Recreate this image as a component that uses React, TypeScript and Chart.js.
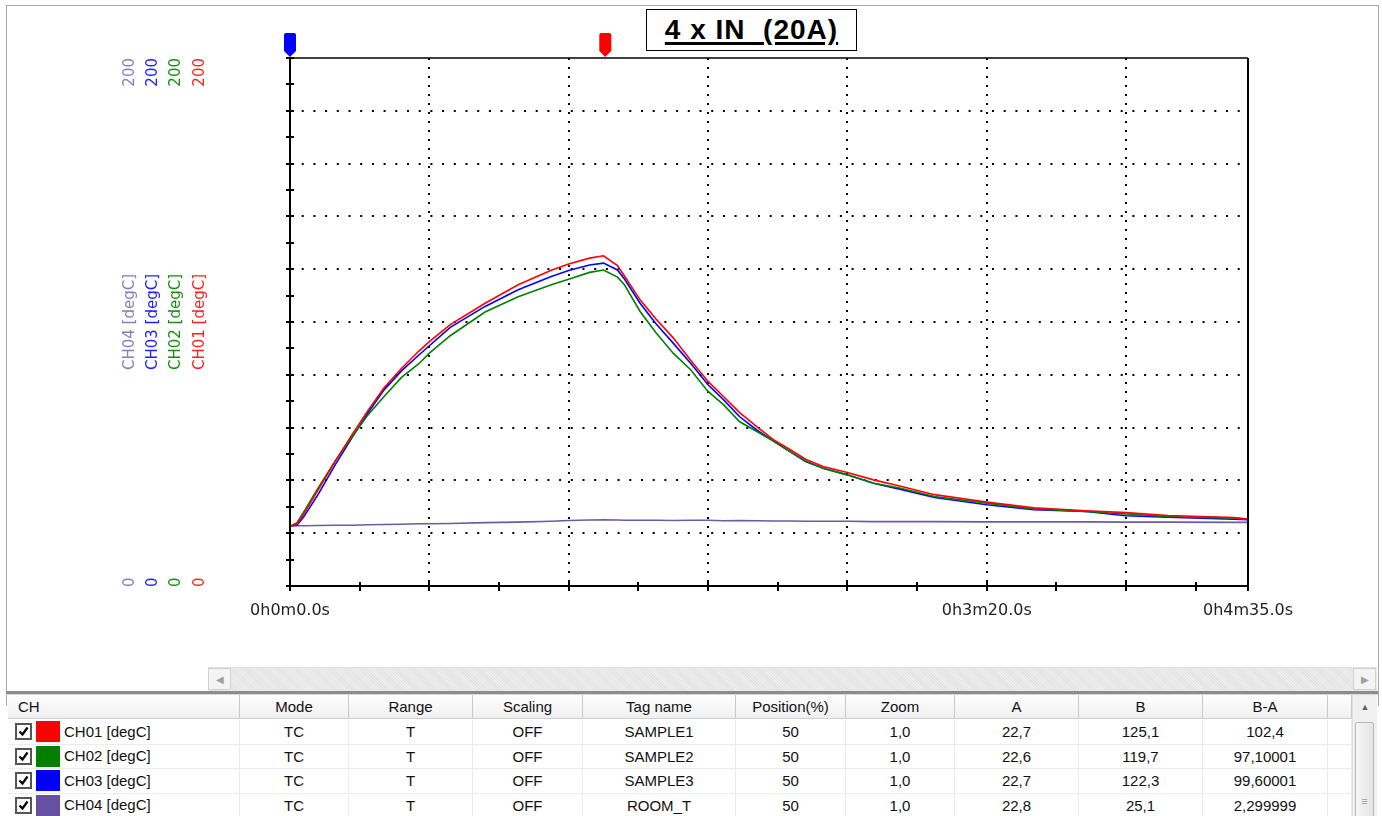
import React, { useEffect, useRef } from "react";
import { Chart, registerables } from "chart.js";

Chart.register(...registerables);

// ---------- data ----------
const TIMES = [0, 2, 4, 8, 13, 18, 22.5, 27, 32, 37, 40, 46, 56, 65.5, 75, 80, 86, 90, 94, 96, 100.5, 105, 110, 115, 120, 124.5, 129, 134, 139, 143.5, 148, 153, 160, 167.5, 175, 185, 200, 213.5, 228.5, 240, 252, 271, 275];

const CH01 = [22.7, 23.5, 27.3, 36.2, 47.3, 57.7, 66.7, 75.1, 82.4, 89.0, 92.6, 99.0, 107.1, 114.1, 119.6, 122.0, 124.2, 125.1, 121.4, 117.4, 108.4, 101.2, 94.0, 85.5, 77.5, 71.7, 65.8, 60.4, 55.2, 51.7, 48.0, 45.3, 43.0, 40.2, 37.9, 34.6, 31.8, 29.6, 28.5, 27.8, 26.7, 25.9, 25.4];
const CH02 = [22.6, 24.0, 28.2, 37.0, 47.5, 56.8, 65.0, 71.8, 79.0, 84.2, 88.2, 94.8, 103.8, 109.6, 114.1, 116.2, 118.8, 119.7, 117.0, 114.1, 104.0, 96.0, 88.2, 81.9, 73.7, 68.6, 62.3, 58.5, 54.7, 50.9, 47.4, 44.6, 42.1, 38.9, 37.1, 33.9, 31.4, 29.2, 28.2, 27.3, 26.3, 25.7, 25.3];
const CH03 = [22.7, 23.0, 26.3, 34.5, 46.0, 56.6, 65.8, 74.3, 81.5, 87.5, 91.0, 98.0, 105.9, 112.2, 117.2, 119.5, 121.6, 122.3, 119.7, 116.3, 107.1, 99.4, 92.0, 84.4, 76.2, 70.5, 64.2, 59.1, 54.7, 50.9, 47.1, 44.6, 42.1, 38.9, 36.7, 33.5, 30.8, 28.9, 28.2, 26.6, 26.1, 25.3, 25.1];
const CH04 = [22.8, 22.8, 22.8, 22.9, 23.0, 23.0, 23.2, 23.3, 23.4, 23.6, 23.6, 23.7, 24.0, 24.2, 24.5, 24.8, 25.0, 25.1, 25.0, 24.9, 24.9, 24.9, 24.8, 24.9, 24.9, 24.7, 24.8, 24.7, 24.6, 24.6, 24.5, 24.5, 24.5, 24.4, 24.4, 24.4, 24.3, 24.3, 24.3, 24.2, 24.2, 24.1, 24.1];

const SERIES = [CH01, CH02, CH03, CH04];
const CH_NAMES = ["CH01 [degC]", "CH02 [degC]", "CH03 [degC]", "CH04 [degC]"];
const LINE_COLORS = ["#ff0000", "#008000", "#0000ff", "#6b5aa8"];
const LABEL_COLORS = ["#ff2020", "#159015", "#2020ff", "#8a7cc0"];

const X_TICKS = [0, 20, 40, 60, 80, 100, 120, 140, 160, 180, 200, 220, 240, 260, 275];
const X_TICK_LABELS = ["0h0m0.0s", "", "", "", "", "", "", "", "", "", "0h3m20.0s", "", "", "", "0h4m35.0s"];
const Y_MIN = 0;
const Y_MAX = 200;
const CURSOR_TIMES = [0, 90.5];
const CURSOR_COLORS = ["#0000ff", "#ff0000"];

const TITLE = "4 x IN  (20A)";

const HEADERS = ["CH", "Mode", "Range", "Scaling", "Tag name", "Position(%)", "Zoom", "A", "B", "B-A", ""];
const MODES = ["TC", "TC", "TC", "TC"];
const RANGES = ["T", "T", "T", "T"];
const SCALINGS = ["OFF", "OFF", "OFF", "OFF"];
const TAG_NAMES = ["SAMPLE1", "SAMPLE2", "SAMPLE3", "ROOM_T"];
const POSITIONS = ["50", "50", "50", "50"];
const ZOOMS = ["1,0", "1,0", "1,0", "1,0"];
const A_VALUES = ["22,7", "22,6", "22,7", "22,8"];
const B_VALUES = ["125,1", "119,7", "122,3", "25,1"];
const BA_VALUES = ["102,4", "97,10001", "99,60001", "2,299999"];
const SWATCH_COLORS = ["#ff0000", "#008000", "#0000ff", "#6650a2"];

// ---------- styles ----------
const COL_WIDTHS = [232, 109, 124, 110, 153, 110, 109, 124, 124, 125, 24];
const SIDE_LABEL_X = [200, 176, 153, 130];

const decorPlugin = {
  id: "decor",
  afterDraw(chart: any) {
    const { ctx, chartArea: ca, scales } = chart;
    const xs = scales.x;
    const ys = scales.y;
    ctx.save();
    // frame
    ctx.strokeStyle = "#000";
    ctx.lineWidth = 2;
    ctx.beginPath();
    ctx.moveTo(ca.left, ca.top);
    ctx.lineTo(ca.left, ca.bottom);
    ctx.lineTo(ca.right, ca.bottom);
    ctx.lineTo(ca.right, ca.top);
    ctx.stroke();
    ctx.lineWidth = 1.5;
    ctx.beginPath();
    ctx.moveTo(ca.left, ca.top);
    ctx.lineTo(ca.right, ca.top);
    ctx.stroke();
    // y tick marks (every 10)
    ctx.lineWidth = 2;
    for (let v = Y_MIN; v <= Y_MAX; v += 10) {
      const py = Math.round(ys.getPixelForValue(v));
      ctx.beginPath();
      ctx.moveTo(ca.left - 4, py);
      ctx.lineTo(ca.left + 4, py);
      ctx.stroke();
    }
    // x tick marks
    X_TICKS.forEach((t) => {
      const px = Math.round(xs.getPixelForValue(t));
      ctx.beginPath();
      ctx.moveTo(px, ca.bottom - 4);
      ctx.lineTo(px, ca.bottom + 5);
      ctx.stroke();
    });
    // rotated channel labels
    ctx.font = "15px 'DejaVu Sans'";
    ctx.textBaseline = "middle";
    CH_NAMES.forEach((name, i) => {
      const cx = SIDE_LABEL_X[i];
      ctx.fillStyle = LABEL_COLORS[i];
      const draw = (text: string, py: number, align: CanvasTextAlign) => {
        ctx.save();
        ctx.translate(cx, py);
        ctx.rotate(-Math.PI / 2);
        ctx.textAlign = align;
        ctx.fillText(text, 0, 0);
        ctx.restore();
      };
      draw(String(Y_MAX), ys.getPixelForValue(Y_MAX), "right");
      draw(String(Y_MIN), ys.getPixelForValue(Y_MIN) + 1, "left");
      draw(name, (ca.top + ca.bottom) / 2, "center");
    });
    // cursor markers
    CURSOR_TIMES.forEach((t, i) => {
      const px = xs.getPixelForValue(t);
      const top = ca.top - 25;
      ctx.fillStyle = CURSOR_COLORS[i];
      ctx.beginPath();
      ctx.moveTo(px - 6, top + 2);
      ctx.quadraticCurveTo(px - 6, top, px - 4, top);
      ctx.lineTo(px + 4, top);
      ctx.quadraticCurveTo(px + 6, top, px + 6, top + 2);
      ctx.lineTo(px + 6, ca.top - 7);
      ctx.lineTo(px, ca.top - 1);
      ctx.lineTo(px - 6, ca.top - 7);
      ctx.closePath();
      ctx.fill();
    });
    ctx.restore();
  },
};

function ChartCanvas() {
  const ref = useRef<HTMLCanvasElement | null>(null);
  useEffect(() => {
    if (!ref.current) return;
    const datasets = SERIES.map((vals, i) => ({
      label: CH_NAMES[i],
      data: TIMES.map((t, j) => ({ x: t, y: vals[j] })),
      borderColor: LINE_COLORS[i],
      backgroundColor: LINE_COLORS[i],
      borderWidth: 1.6,
      pointRadius: 0,
      tension: 0,
      fill: false,
    }));
    const chart = new Chart(ref.current, {
      type: "line",
      data: { datasets },
      plugins: [decorPlugin],
      options: {
        animation: false,
        responsive: false,
        maintainAspectRatio: false,
        devicePixelRatio: 1,
        layout: { padding: { left: 290, right: 134, top: 58, bottom: 18 } },
        plugins: { legend: { display: false }, tooltip: { enabled: false } },
        scales: {
          x: {
            type: "linear",
            min: 0,
            max: 275,
            afterBuildTicks: (scale: any) => {
              scale.ticks = X_TICKS.map((v) => ({ value: v }));
            },
            afterFit: (scale: any) => {
              scale.height = 60;
            },
            ticks: {
              autoSkip: false,
              maxRotation: 0,
              minRotation: 0,
              padding: 15,
              color: "#222",
              font: { family: "'DejaVu Sans'", size: 16 },
              callback: (value: any) => {
                const idx = X_TICKS.indexOf(Number(value));
                return idx >= 0 ? X_TICK_LABELS[idx] : "";
              },
            },
            grid: {
              drawTicks: false,
              lineWidth: 2,
              color: (c: any) => {
                const v = c.tick ? c.tick.value : -1;
                return v > 0 && v < 275 && v % 40 === 0 ? "#000" : "rgba(0,0,0,0)";
              },
            },
            border: { display: false, dash: [2, 7] },
          },
          y: {
            type: "linear",
            min: Y_MIN,
            max: Y_MAX,
            afterFit: (scale: any) => {
              scale.width = 0;
            },
            ticks: { display: false, stepSize: 10 },
            grid: {
              drawTicks: false,
              lineWidth: 2,
              color: (c: any) => {
                const v = c.tick ? c.tick.value : -1;
                return v > Y_MIN && v < Y_MAX && v % 20 === 0 ? "#000" : "rgba(0,0,0,0)";
              },
            },
            border: { display: false, dash: [2, 9.7] },
          },
        },
      } as any,
    });
    return () => chart.destroy();
  }, []);
  return (
    <canvas
      ref={ref}
      width={1382}
      height={664}
      style={{ position: "absolute", left: 0, top: 0, width: 1382, height: 664 }}
    />
  );
}

const CheckBox = () => (
  <svg width="17" height="17" style={{ display: "block" }}>
    <rect x="1" y="1" width="15" height="15" fill="#fff" stroke="#555" strokeWidth="2" />
    <path d="M4.5 8.5 L7.5 11.5 L12.5 4.5" stroke="#000" strokeWidth="2.2" fill="none" />
  </svg>
);

export default function App() {
  const rows = CH_NAMES.map((name, i) => [
    name,
    MODES[i],
    RANGES[i],
    SCALINGS[i],
    TAG_NAMES[i],
    POSITIONS[i],
    ZOOMS[i],
    A_VALUES[i],
    B_VALUES[i],
    BA_VALUES[i],
    "",
  ]);
  const font = "'Liberation Sans', Arial, sans-serif";
  let acc = 8;
  const colLefts = COL_WIDTHS.map((w) => {
    const l = acc;
    acc += w;
    return l;
  });
  return (
    <div
      style={{
        position: "fixed",
        left: 0,
        top: 0,
        width: 1382,
        height: 816,
        background: "#fff",
        overflow: "hidden",
        fontFamily: font,
      }}
    >
      {/* window frame */}
      <div
        style={{
          position: "absolute",
          left: 6,
          top: 5,
          width: 1371,
          height: 700,
          borderLeft: "1px solid #a8a8a8",
          borderTop: "1px solid #a8a8a8",
          borderRight: "1px solid #a8a8a8",
        }}
      />
      <ChartCanvas />
      {/* title */}
      <div
        style={{
          position: "absolute",
          left: 646,
          top: 9,
          width: 209,
          height: 40,
          border: "1.5px solid #000",
          display: "flex",
          alignItems: "center",
          justifyContent: "center",
          fontFamily: "'Liberation Sans', Arial, sans-serif",
          fontWeight: "bold",
          fontSize: 28,
          letterSpacing: 1,
          whiteSpace: "pre",
          textDecoration: "underline",
          textDecorationThickness: 3,
          textUnderlineOffset: 3,
          background: "#fff",
        }}
      >
        {TITLE}
      </div>
      {/* horizontal scrollbar */}
      <div
        style={{
          position: "absolute",
          left: 208,
          top: 667,
          width: 1169,
          height: 23,
          background: "repeating-linear-gradient(45deg, #eeeeee 0 1px, #e4e4e4 1px 2px)",
          borderTop: "1px solid #e0e0e0",
        }}
      >
        <div
          style={{
            position: "absolute",
            left: 0,
            top: 0,
            width: 23,
            height: 22,
            background: "#f4f4f4",
            border: "1px solid #d0d0d0",
            boxSizing: "border-box",
            color: "#a0a0a0",
            fontSize: 10,
            display: "flex",
            alignItems: "center",
            justifyContent: "center",
          }}
        >
          ◀
        </div>
        <div
          style={{
            position: "absolute",
            left: 1145,
            top: 0,
            width: 23,
            height: 22,
            background: "#f4f4f4",
            border: "1px solid #d0d0d0",
            boxSizing: "border-box",
            color: "#a0a0a0",
            fontSize: 10,
            display: "flex",
            alignItems: "center",
            justifyContent: "center",
          }}
        >
          ▶
        </div>
      </div>
      {/* table */}
      <div
        style={{
          position: "absolute",
          left: 6,
          top: 691,
          width: 1372,
          height: 3,
          background: "#8c8c8c",
          borderBottom: "1px solid #d8d8d8",
        }}
      />
      <div style={{ position: "absolute", left: 0, top: 695, width: 1382, height: 121 }}>
        {/* header */}
        {HEADERS.map((h, c) => (
          <div
            key={"h" + c}
            style={{
              position: "absolute",
              left: colLefts[c],
              top: 0,
              width: COL_WIDTHS[c],
              height: 24,
              boxSizing: "border-box",
              background: "linear-gradient(#ffffff, #f0f0f0)",
              borderRight: "1px solid #c8c8c8",
              borderBottom: "1px solid #d0d0d0",
              fontSize: 15,
              lineHeight: "24px",
              textAlign: c === 0 ? "left" : "center",
              paddingLeft: c === 0 ? 10 : 0,
              color: "#111",
              whiteSpace: "nowrap",
            }}
          >
            {h}
          </div>
        ))}
        {rows.map((r, ri) =>
          r.map((cell, c) => (
            <div
              key={ri + "-" + c}
              style={{
                position: "absolute",
                left: colLefts[c],
                top: 25 + ri * 24.5,
                width: COL_WIDTHS[c],
                height: 24.5,
                boxSizing: "border-box",
                borderRight: "1px solid #ececec",
                borderBottom: "1px solid #ececec",
                fontSize: 15,
                lineHeight: "24px",
                textAlign: c === 0 ? "left" : "center",
                color: "#111",
                whiteSpace: "nowrap",
                display: c === 0 ? "flex" : "block",
                alignItems: "center",
              }}
            >
              {c === 0 ? (
                <>
                  <div style={{ marginLeft: 7 }}>
                    <CheckBox />
                  </div>
                  <div
                    style={{
                      width: 24,
                      height: 21,
                      marginLeft: 4,
                      background: SWATCH_COLORS[ri],
                    }}
                  />
                  <span style={{ marginLeft: 4 }}>{cell}</span>
                </>
              ) : (
                cell
              )}
            </div>
          ))
        )}
        {/* vertical scrollbar */}
        <div
          style={{
            position: "absolute",
            left: 1352,
            top: 0,
            width: 24,
            height: 121,
            background: "#f0f0f0",
            borderLeft: "1px solid #e0e0e0",
          }}
        >
          <div
            style={{
              height: 24,
              color: "#606060",
              fontSize: 9,
              textAlign: "center",
              lineHeight: "24px",
            }}
          >
            ▲
          </div>
          <div
            style={{
              position: "absolute",
              left: 2,
              top: 27,
              width: 19,
              height: 100,
              background: "linear-gradient(90deg, #f6f6f6, #e4e4e4)",
              border: "1px solid #b8b8b8",
              borderRadius: 2,
              color: "#999",
              fontSize: 11,
              textAlign: "center",
              paddingTop: 72,
              boxSizing: "border-box",
            }}
          >
            ≡
          </div>
        </div>
      </div>
    </div>
  );
}
